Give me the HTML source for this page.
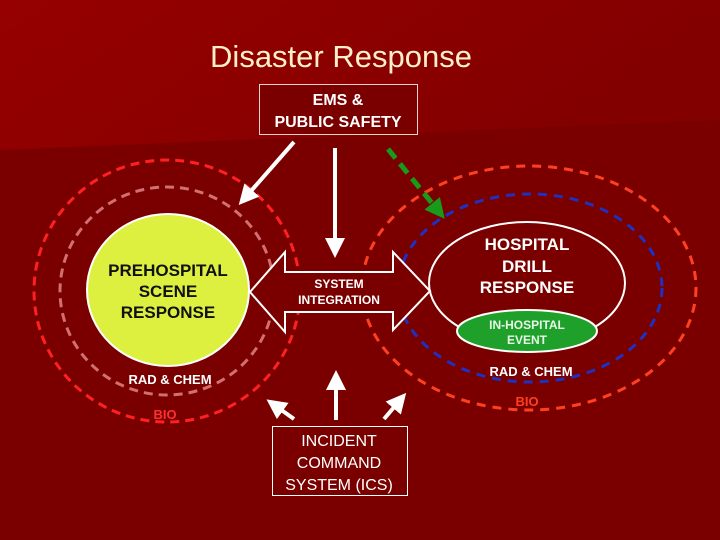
<!DOCTYPE html>
<html><head><style>html,body{margin:0;padding:0;width:720px;height:540px;overflow:hidden}</style></head>
<body>
<svg width="720" height="540" xmlns="http://www.w3.org/2000/svg" font-family="Liberation Sans, sans-serif">
<defs>
<linearGradient id="tg" x1="0" y1="0" x2="1" y2="0.3"><stop offset="0" stop-color="#960000"/><stop offset="1" stop-color="#820000"/></linearGradient>
<marker id="wh" markerWidth="5" markerHeight="5" refX="3" refY="2.5" orient="auto" markerUnits="strokeWidth"><path d="M0,0 L5,2.5 L0,5 z" fill="#fff"/></marker>
<marker id="gh" markerWidth="4" markerHeight="4" refX="2.5" refY="2" orient="auto" markerUnits="strokeWidth"><path d="M0,0 L4,2 L0,4 z" fill="#1a9a1a"/></marker>
</defs>
<rect width="720" height="540" fill="#7a0000"/>
<polygon points="0,0 720,0 720,120 0,150" fill="url(#tg)"/>
<text x="341" y="67" font-size="31" fill="#fdf0c8" text-anchor="middle">Disaster Response</text>
<rect x="259.5" y="84.5" width="158" height="50" fill="#7a0000" stroke="#f0d0d0"/>
<text x="338" y="105" font-size="16" font-weight="bold" fill="#fff" text-anchor="middle">EMS &amp;</text>
<text x="338" y="127" font-size="16" font-weight="bold" fill="#fff" text-anchor="middle">PUBLIC SAFETY</text>

<ellipse cx="167" cy="291" rx="133" ry="131" fill="none" stroke="#ff2020" stroke-width="3" stroke-dasharray="9,6"/>
<ellipse cx="167" cy="291" rx="107" ry="104" fill="none" stroke="#d07070" stroke-width="3" stroke-dasharray="9,6"/>
<ellipse cx="168" cy="290" rx="81" ry="76" fill="#ddf040" stroke="#fff" stroke-width="2"/>
<text x="168" y="276" font-size="17" font-weight="bold" fill="#111" text-anchor="middle">PREHOSPITAL</text>
<text x="168" y="297" font-size="17" font-weight="bold" fill="#111" text-anchor="middle">SCENE</text>
<text x="168" y="318" font-size="17" font-weight="bold" fill="#111" text-anchor="middle">RESPONSE</text>
<text x="170" y="384" font-size="13" font-weight="bold" fill="#fff" text-anchor="middle">RAD &amp; CHEM</text>
<text x="165" y="419" font-size="13" font-weight="bold" fill="#ff3030" text-anchor="middle">BIO</text>

<ellipse cx="529" cy="288" rx="167" ry="122" fill="none" stroke="#ff4020" stroke-width="3" stroke-dasharray="9,7"/>
<ellipse cx="530" cy="288" rx="132" ry="94" fill="none" stroke="#2030c0" stroke-width="3" stroke-dasharray="9,7"/>
<ellipse cx="527" cy="283" rx="98" ry="61" fill="#7a0000" stroke="#fff" stroke-width="2"/>
<text x="527" y="250" font-size="17" font-weight="bold" fill="#fff" text-anchor="middle">HOSPITAL</text>
<text x="527" y="272" font-size="17" font-weight="bold" fill="#fff" text-anchor="middle">DRILL</text>
<text x="527" y="293" font-size="17" font-weight="bold" fill="#fff" text-anchor="middle">RESPONSE</text>
<ellipse cx="527" cy="331" rx="70" ry="21" fill="#1fa02a" stroke="#fff" stroke-width="2"/>
<text x="527" y="329" font-size="12" font-weight="bold" fill="#e8f8e8" text-anchor="middle">IN-HOSPITAL</text>
<text x="527" y="344" font-size="12" font-weight="bold" fill="#e8f8e8" text-anchor="middle">EVENT</text>
<text x="531" y="376" font-size="13" font-weight="bold" fill="#fff" text-anchor="middle">RAD &amp; CHEM</text>
<text x="527" y="406" font-size="13" font-weight="bold" fill="#ff4020" text-anchor="middle">BIO</text>

<polygon points="250,292 285,252 285,272 393,272 393,252 430,291 393,330 393,312 285,312 285,332" fill="#7a0000" stroke="#fff" stroke-width="2"/>
<text x="339" y="288" font-size="12" font-weight="bold" fill="#fff" text-anchor="middle">SYSTEM</text>
<text x="339" y="304" font-size="12" font-weight="bold" fill="#fff" text-anchor="middle">INTEGRATION</text>

<rect x="272.5" y="426.5" width="135" height="69" fill="#7a0000" stroke="#fff"/>
<text x="339" y="446" font-size="16" fill="#fff" text-anchor="middle">INCIDENT</text>
<text x="339" y="468" font-size="16" fill="#fff" text-anchor="middle">COMMAND</text>
<text x="339" y="490" font-size="16" fill="#fff" text-anchor="middle">SYSTEM (ICS)</text>

<line x1="294" y1="142" x2="244" y2="199" stroke="#fff" stroke-width="4" marker-end="url(#wh)"/>
<line x1="335" y1="148" x2="335" y2="250" stroke="#fff" stroke-width="4" marker-end="url(#wh)"/>
<line x1="336" y1="420" x2="336" y2="378" stroke="#fff" stroke-width="4" marker-end="url(#wh)"/>
<line x1="294" y1="419" x2="273" y2="404" stroke="#fff" stroke-width="4" marker-end="url(#wh)"/>
<line x1="384" y1="419" x2="401" y2="399" stroke="#fff" stroke-width="4" marker-end="url(#wh)"/>
<line x1="388" y1="149" x2="440" y2="213" stroke="#1a9a1a" stroke-width="5" stroke-dasharray="12,7" marker-end="url(#gh)"/>
</svg>
</body></html>
